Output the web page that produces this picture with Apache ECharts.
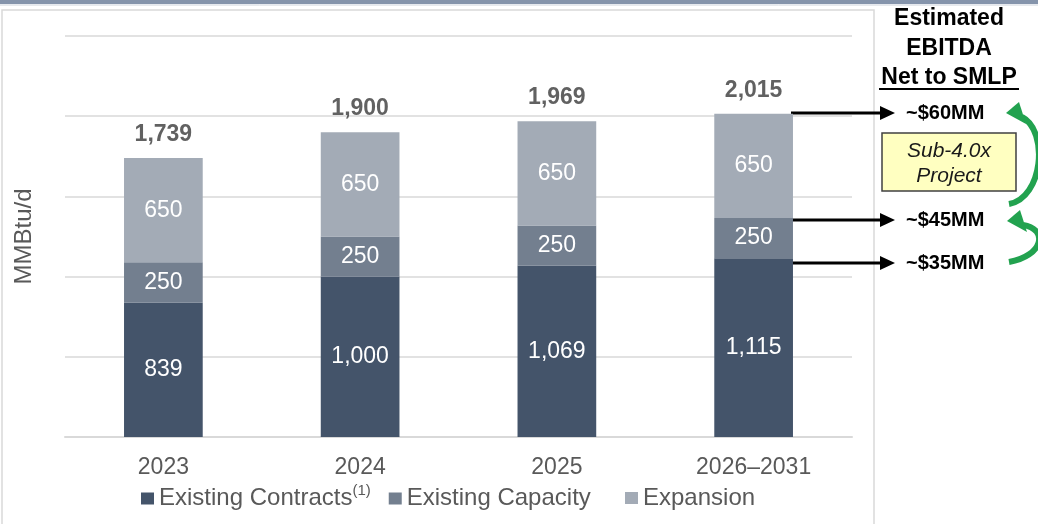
<!DOCTYPE html>
<html>
<head>
<meta charset="utf-8">
<title>SMLP volumes</title>
<script src="https://cdn.jsdelivr.net/npm/echarts@6/dist/echarts.min.js"></script>
<style>
html, body { margin: 0; padding: 0; background: #fff; }
#main { width: 1038px; height: 524px; }
</style>
</head>
<body>
<div id="main"></div>
<script>
// chart data
var years = ['2023', '2024', '2025', '2026–2031']
var contracts = [839, 1000, 1069, 1115]
var capacity = [250, 250, 250, 250]
var expansion = [650, 650, 650, 650]
var totals = [1739, 1900, 1969, 2015]
var yTicks = [0, 500, 1000, 1500, 2000, 2500]
var ebitda = ['~$60MM', '~$45MM', '~$35MM']

var font = 'Arial, "Liberation Sans", sans-serif'
var fmt = function (p) { return Number(p.value).toLocaleString('en-US') }

var myChart = echarts.init(document.getElementById('main'))

// black arrow from bar to EBITDA label
function blackArrow(y) {
    return [
        { type: 'line', shape: { x1: 791, y1: y, x2: 883, y2: y }, style: { stroke: '#000', lineWidth: 3 } },
        { type: 'polygon', shape: { points: [[880, y - 7], [895, y], [880, y + 7]] }, style: { fill: '#000' } }
    ]
}

// green curved arrow (tail bottom, head top-left)
function greenArrow(x0, y0, x1, y1) {
    var h = y0 - y1
    return [
        { type: 'bezierCurve', shape: { x1: x0, y1: y0, cpx1: x0 + 34, cpy1: y0 - 6, cpx2: x0 + 40, cpy2: y1 + h * 0.2, x2: x1 + 16, y2: y1 + 4 },
          style: { stroke: '#22a24f', lineWidth: 6, fill: null, lineCap: 'butt' } },
        { type: 'polygon', shape: { points: [[x1, y1], [x1 + 13, y1 - 11], [x1 + 20, y1 + 11]] }, style: { fill: '#22a24f' } }
    ]
}

var header = ['Estimated', 'EBITDA', 'Net to SMLP']
var graphics = [
    { type: 'rect', shape: { x: 0, y: 0, width: 1038, height: 4 }, style: { fill: '#8594ab' } },
    { type: 'line', shape: { x1: 0, y1: 5, x2: 1038, y2: 5 }, style: { stroke: '#cdd3dc', lineWidth: 1 } },
    { type: 'rect', shape: { x: 2, y: 10, width: 872, height: 530 }, style: { fill: 'none', stroke: '#d9d9d9', lineWidth: 1.5 } },
    { type: 'line', shape: { x1: 879, y1: 89, x2: 1019, y2: 89 }, style: { stroke: '#000', lineWidth: 2 } },
    { type: 'rect', shape: { x: 882, y: 133, width: 134, height: 58 }, style: { fill: '#ffffc1', stroke: '#404040', lineWidth: 1.5 } },
    { type: 'text', x: 949, y: 163.5, style: { text: 'Sub-4.0x\nProject', fontSize: 21, fontStyle: 'italic', fontFamily: font, fill: '#1a1a1a', align: 'center', verticalAlign: 'middle', lineHeight: 25 } }
]
header.forEach(function (t, i) {
    graphics.push({ type: 'text', x: 949, y: 19 + i * 29.5, style: { text: t, fontSize: 23, fontWeight: 'bold', fontFamily: font, fill: '#000', align: 'center', verticalAlign: 'middle' } })
})
var arrowY = [113, 220, 263]
ebitda.forEach(function (t, i) {
    graphics = graphics.concat(blackArrow(arrowY[i]))
    graphics.push({ type: 'text', x: 906, y: arrowY[i], style: { text: t, fontSize: 20, fontWeight: 'bold', fontFamily: font, fill: '#000', align: 'left', verticalAlign: 'middle' } })
})
graphics = graphics.concat(greenArrow(1009, 204, 1006, 113))
graphics = graphics.concat(greenArrow(1009, 262, 1007, 221))

function barSeries(name, data, color) {
    return {
        name: name,
        type: 'bar',
        stack: 'vol',
        barWidth: '40%',
        data: data,
        itemStyle: { color: color },
        label: { show: true, position: 'inside', color: '#fff', fontSize: 23, fontFamily: font, formatter: fmt }
    }
}

// legend look, shared by both legend boxes
function legendBox(names, left, top) {
    return {
        data: names,
        left: left,
        top: top,
        icon: 'rect',
        itemWidth: 13,
        itemHeight: 12,
        itemGap: 18,
        formatter: function (name) {
            if (name == 'Existing Contracts') return '{a|' + name + '}{s|(1)}'
            return '{a|' + name + '}'
        },
        textStyle: {
            color: '#595959',
            fontSize: 24,
            rich: {
                a: { fontSize: 24, color: '#595959', fontFamily: font },
                s: { fontSize: 15, color: '#595959', fontFamily: font, verticalAlign: 'top', padding: [0, 0, 16, 0] }
            }
        }
    }
}

var option = {
    animation: false,
    textStyle: { fontFamily: font },
    grid: { left: 65, right: 186, top: 36, bottom: 87 },
    legend: [
        legendBox(['Existing Contracts', 'Existing Capacity'], 136, 478),
        legendBox(['Expansion'], 620, 481)
    ],
    xAxis: {
        type: 'category',
        data: years,
        axisLine: { lineStyle: { color: '#d9d9d9', width: 2 } },
        axisTick: { show: false },
        axisLabel: { color: '#595959', fontSize: 23, margin: 19 }
    },
    yAxis: {
        type: 'value',
        min: yTicks[0],
        max: yTicks[yTicks.length - 1],
        interval: yTicks[1] - yTicks[0],
        name: 'MMBtu/d',
        nameLocation: 'middle',
        nameRotate: 90,
        nameGap: 29,
        nameTextStyle: { color: '#595959', fontSize: 24 },
        axisLabel: { show: false },
        axisLine: { show: false },
        axisTick: { show: false },
        splitLine: { lineStyle: { color: '#d9d9d9', width: 1.5 } }
    },
    series: [
        barSeries('Existing Contracts', contracts, '#44546a'),
        barSeries('Existing Capacity', capacity, '#737f8f'),
        barSeries('Expansion', expansion, '#a3abb6'),
        {
            name: 'total',
            type: 'scatter',
            data: totals,
            symbolSize: 0,
            silent: true,
            label: { show: true, position: 'top', distance: 12, fontSize: 23, fontWeight: 'bold', color: '#3a3a3a', formatter: fmt }
        }
    ],
    graphic: graphics
}
myChart.setOption(option)
</script>
</body>
</html>
